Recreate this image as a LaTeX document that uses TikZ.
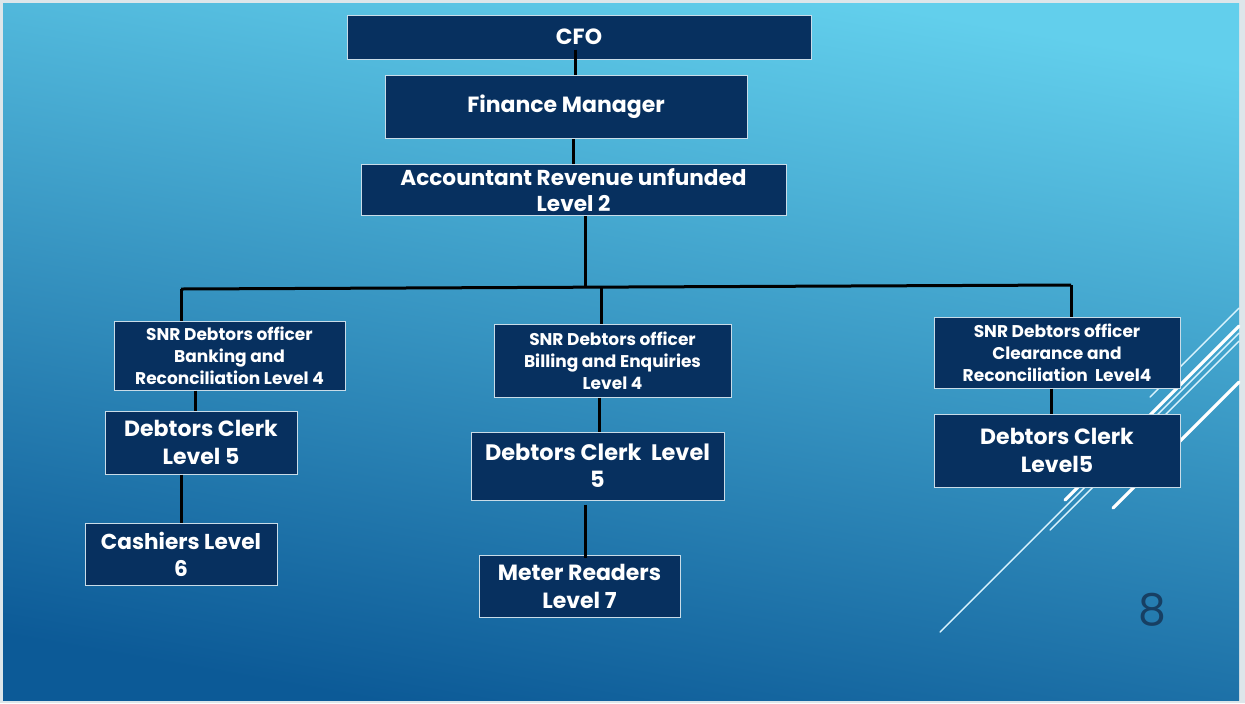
\documentclass[tikz,border=0pt]{standalone}
\usepackage{fontspec}
\setmainfont{Poppins}
\definecolor{frame}{HTML}{DDE6EA}
\definecolor{bgtop}{HTML}{62CFEC}
\definecolor{bgmid}{HTML}{2F93C8}
\definecolor{bgbot}{HTML}{0C5A97}
\definecolor{navy}{HTML}{07305F}
\definecolor{boxline}{HTML}{C9DCE8}
\definecolor{pagenum}{HTML}{173F63}
\newcommand{\boxfont}[2]{\bfseries\fontsize{#1}{#2}\selectfont}
\begin{document}
\begin{tikzpicture}[x=0.5pt,y=-0.5pt,
  box/.style={draw=boxline, line width=0.5pt, fill=navy, text=white,
    align=center, inner sep=0pt},
  conn/.style={draw=black, line width=1.5pt},
  decothick/.style={draw=white, line width=1.6pt, line cap=round},
  decothin/.style={draw=white!85!cyan, line width=0.7pt, line cap=round}]
\useasboundingbox (0,0) rectangle (1245,703);
% slide background
\fill[frame] (0,0) rectangle (1245,703);
\shade[top color=bgtop, middle color=bgmid, bottom color=bgbot, shading angle=-10]
  (3,3) rectangle (1239,700);
% decorative diagonal strokes
\draw[decothick] (1065,500) -- (1239,326);
\draw[decothick] (1113,508) -- (1239,382);
\draw[decothin] (940,632) -- (1239,333);
\draw[decothin] (1050,530) -- (1239,341);
\draw[decothin] (1150,397) -- (1239,308);
% page number
\node[text=pagenum, font=\fontsize{22}{24}\selectfont] (pg) at (1152,610) {8};
% boxes
\node[box, font=\boxfont{11}{13}, minimum width=232pt, minimum height=22pt] (cfo) at (579,37)
  {CFO};
\node[box, font=\boxfont{11}{13}, minimum width=181pt, minimum height=31.5pt] (fm) at (566,107)
  {Finance Manager};
\node[box, font=\boxfont{10.8}{13}, minimum width=212.5pt, minimum height=25.5pt] (acc) at (573.5,190)
  {Accountant Revenue unfunded\\Level 2};
\node[box, font=\boxfont{8.5}{11}, minimum width=115.5pt, minimum height=34.5pt] (snr1) at (229.5,355.5)
  {SNR Debtors officer\\Banking and\\Reconciliation Level 4};
\node[box, font=\boxfont{8.5}{11}, minimum width=118.5pt, minimum height=36.5pt] (snr2) at (612.5,360.5)
  {SNR Debtors officer\\Billing and Enquiries\\Level 4};
\node[box, font=\boxfont{8.5}{11}, minimum width=123pt, minimum height=35.5pt] (snr3) at (1057,352.5)
  {SNR Debtors officer\\Clearance and\\Reconciliation\ \ Level4};
\node[box, font=\boxfont{11}{14}, minimum width=96pt, minimum height=31.5pt] (dc1) at (201,442.5)
  {Debtors Clerk\\Level 5};
\node[box, font=\boxfont{11.2}{13.5}, minimum width=126.5pt, minimum height=34pt] (dc2) at (597.5,466)
  {Debtors Clerk\ \ Level\\5};
\node[box, font=\boxfont{11}{14}, minimum width=123pt, minimum height=36.5pt] (dc3) at (1057,450.5)
  {Debtors Clerk\\Level5};
\node[box, font=\boxfont{10.8}{13.5}, minimum width=96pt, minimum height=31pt] (cash) at (181,554)
  {Cashiers Level\\6};
\node[box, font=\boxfont{11}{14}, minimum width=100.5pt, minimum height=31pt] (meter) at (579.5,586)
  {Meter Readers\\Level 7};
% bus line and its junctions
\coordinate (busL) at (181,289);
\coordinate (busR) at (1071,285);
\coordinate (busA) at (585,287);
\coordinate (busM) at (601,287);
% connectors
\draw[conn] ([xshift=-2pt,yshift=5pt]cfo.south) -- ([xshift=4.5pt]fm.north);
\draw[conn] ([xshift=3.5pt]fm.south) -- ([xshift=-0.25pt]acc.north);
\draw[conn] ([xshift=5.75pt]acc.south) -- (busA);
\draw[conn] (busL) -- (busR);
\draw[conn] (busL) -- (busL |- snr1.north);
\draw[conn] (busM) -- (busM |- snr2.north);
\draw[conn] (busR) -- (busR |- snr3.north);
\draw[conn] ([xshift=-17.25pt]snr1.south) -- ([xshift=-3pt]dc1.north);
\draw[conn] ([xshift=-10pt]dc1.south) -- (cash.north);
\draw[conn] ([xshift=-6.75pt]snr2.south) -- ([xshift=0.75pt]dc2.north);
\draw[conn] ([xshift=-6.25pt,yshift=-2pt]dc2.south) -- ([xshift=2.75pt,yshift=-1.5pt]meter.north);
\draw[conn] ([xshift=-3pt]snr3.south) -- ([xshift=-3pt]dc3.north);
\end{tikzpicture}
\end{document}
